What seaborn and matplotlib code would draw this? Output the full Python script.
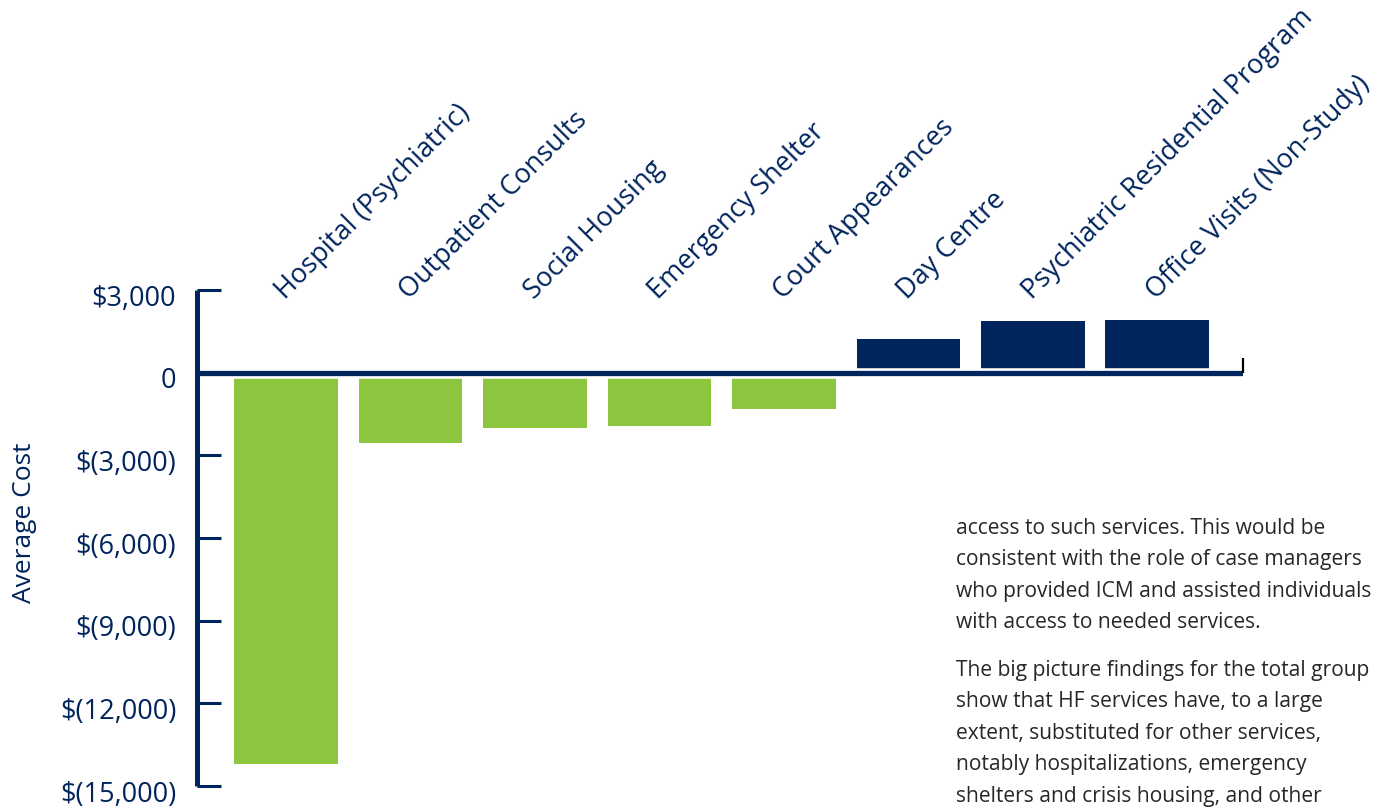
import matplotlib
matplotlib.use("Agg")
import matplotlib.pyplot as plt
import matplotlib.transforms as mtransforms
from matplotlib.ticker import FixedLocator, FuncFormatter
import seaborn as sns
import pandas as pd

# Change in average cost per service
services = [
    "Hospital (Psychiatric)",
    "Outpatient Consults",
    "Social Housing",
    "Emergency Shelter",
    "Court Appearances",
    "Day Centre",
    "Psychiatric Residential Program",
    "Office Visits (Non-Study)",
]
avg_cost = [-14200, -2550, -2000, -1930, -1310, 1220, 1880, 1910]

y_ticks = [3000, 0, -3000, -6000, -9000, -12000, -15000]

body_para_1 = [
    "access to such services. This would be",
    "consistent with the role of case managers",
    "who provided ICM and assisted individuals",
    "with access to needed services.",
]
body_para_2 = [
    "The big picture findings for the total group",
    "show that HF services have, to a large",
    "extent, substituted for other services,",
    "notably hospitalizations, emergency",
    "shelters and crisis housing, and other",
]

NAVY = "#00245c"
GREEN = "#8cc63f"

sns.set_theme(style="white")
plt.rcParams["font.family"] = ["Open Sans", "DejaVu Sans"]

df = pd.DataFrame({"service": services, "cost": avg_cost})
df["direction"] = ["decrease" if v < 0 else "increase" for v in avg_cost]

W, H = 1380, 811
fig = plt.figure(figsize=(W / 100, H / 100), dpi=100)
ax = fig.add_axes([197 / W, 25 / H, 1046 / W, 496 / H])

sns.barplot(
    data=df, x="service", y="cost", hue="direction",
    palette={"decrease": GREEN, "increase": NAVY},
    width=0.835, dodge=False, legend=False, saturation=1, ax=ax,
)
for p in ax.patches:
    p.set_edgecolor("none")
    p.set_zorder(1)

ax.set_xlim(-0.715, 7.687)
ax.set_ylim(-15000, 3000)

# zero baseline with a thin white gap around it
ax.axhline(0, color="white", lw=7.6, zorder=1.5, solid_capstyle="butt")
ax.axhline(0, color=NAVY, lw=3.8, zorder=1.6, solid_capstyle="butt")
ax.vlines(1, 0, 540, transform=ax.get_yaxis_transform(), color="black",
          lw=1.6, zorder=3, clip_on=False)

for side in ["top", "right", "bottom"]:
    ax.spines[side].set_visible(False)
ax.spines["left"].set_color(NAVY)
ax.spines["left"].set_linewidth(3.6)
ax.spines["left"].set_capstyle("butt")

ax.yaxis.set_major_locator(FixedLocator(y_ticks))


def money(v, _pos=None):
    if v == 0:
        return "0"
    s = f"${abs(int(v)):,}"
    return s if v > 0 else f"$({abs(int(v)):,})"


ax.yaxis.set_major_formatter(FuncFormatter(money))
ax.tick_params(axis="y", direction="in", length=17, width=2.2, color=NAVY,
               labelcolor=NAVY, labelsize=19.5, pad=15, left=True)
ax.tick_params(axis="x", bottom=False, labelbottom=False)

# nudge the value labels slightly below their ticks
shift = mtransforms.ScaledTranslation(0, -5 / 100, fig.dpi_scale_trans)
for tick in ax.yaxis.get_major_ticks():
    tick.label1.set_transform(tick.label1.get_transform() + shift)

ax.set_xlabel("")
ax.set_ylabel("Average Cost", color=NAVY, fontsize=19)
ax.yaxis.set_label_coords(-0.153, 0.53)

# rotated category names above the bars
label_offset = mtransforms.offset_copy(ax.transData, fig=fig, x=-1, y=0, units="dots")
for i, name in enumerate(services):
    ax.text(i, 2640, name, rotation=45, rotation_mode="anchor",
            ha="left", va="baseline", color=NAVY, fontsize=19.5,
            transform=label_offset, clip_on=False)

# body copy beside the chart
text_kw = dict(ha="left", va="baseline", fontsize=15.1, color="#2a2627")
line_step = 31.4
for j, line in enumerate(body_para_1):
    fig.text(956 / W, 1 - (534 + j * line_step) / H, line, **text_kw)
for j, line in enumerate(body_para_2):
    fig.text(956 / W, 1 - (676 + j * line_step) / H, line, **text_kw)

fig.savefig("out.png", dpi=100)
